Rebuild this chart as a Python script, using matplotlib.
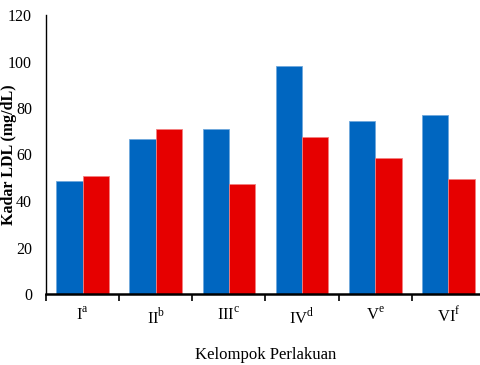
import matplotlib
matplotlib.use('Agg')
import matplotlib.pyplot as plt
import numpy as np

plt.rcParams['font.family'] = 'Liberation Serif'
plt.rcParams['mathtext.fontset'] = 'custom'
plt.rcParams['mathtext.rm'] = 'Liberation Serif'

# Data
groups = [r'I$^{\mathrm{a}}$', r'II$^{\mathrm{b}}$', r'III$^{\mathrm{c}}$',
          r'IV$^{\mathrm{d}}$', r'V$^{\mathrm{e}}$', r'VI$^{\mathrm{f}}$']
blue_vals = [48.7, 66.5, 71.1, 98.1, 74.3, 76.9]
red_vals = [50.9, 71.1, 47.3, 67.4, 58.4, 49.5]

x = np.arange(len(groups))
w = 0.36

fig = plt.figure(figsize=(4.81, 3.65), dpi=100)
ax = fig.add_axes([46 / 481, 1 - 294 / 365, 439 / 481, 279 / 365])

ax.bar(x - w / 2, blue_vals, w, color='#0066c0', edgecolor='#6fa8dc', linewidth=0.6)
ax.bar(x + w / 2, red_vals, w, color='#e60000', edgecolor='#f28080', linewidth=0.6)

ax.set_xlim(-0.5, 5.5)
ax.set_ylim(0, 120)
ax.set_yticks(range(0, 121, 20))
ax.tick_params(axis='y', length=0, labelsize=11.5, pad=10)

ax.set_xticks(x)
ax.set_xticklabels(groups, fontsize=12)
ax.set_xticks(np.arange(-0.5, 6, 1), minor=True)
ax.tick_params(axis='x', which='major', length=0, pad=9)
ax.tick_params(axis='x', which='minor', length=5, width=1.2, direction='out')

ax.spines['top'].set_visible(False)
ax.spines['right'].set_visible(False)
ax.spines['bottom'].set_linewidth(1.8)
ax.spines['left'].set_linewidth(1.0)

ax.set_xlabel('Kelompok Perlakuan', fontsize=12, labelpad=14)
ax.set_ylabel('Kadar LDL (mg/dL)', fontsize=11.5, fontweight='bold')
ax.yaxis.set_label_coords(-0.066, 0.5)

fig.savefig('out.png', dpi=100)
